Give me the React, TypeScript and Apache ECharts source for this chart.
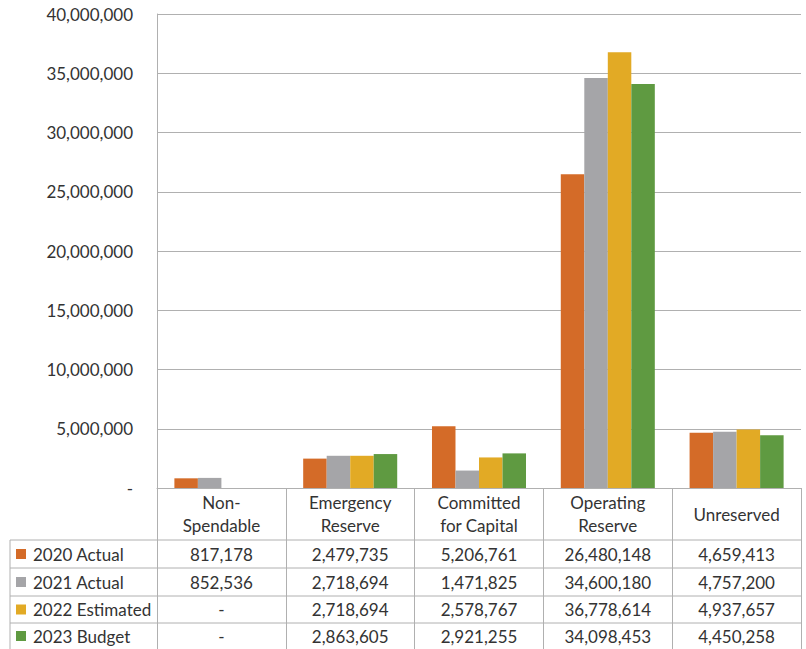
import React, { useEffect, useRef } from "react";
import * as echarts from "echarts";

const categories = ["Non-\nSpendable", "Emergency\nReserve", "Committed\nfor Capital", "Operating\nReserve", "Unreserved"];
const seriesNames = ["2020 Actual", "2021 Actual", "2022 Estimated", "2023 Budget"];
const actual2020 = [817178, 2479735, 5206761, 26480148, 4659413];
const actual2021 = [852536, 2718694, 1471825, 34600180, 4757200];
const estimated2022 = [null, 2718694, 2578767, 36778614, 4937657];
const budget2023 = [null, 2863605, 2921255, 34098453, 4450258];
const colors = ["#D46B28", "#A5A5A8", "#E2AA25", "#5F9A41"];

const FONT = "Lato";
const TEXT = "#333333";
const LINE = "#B0B0B0";
const FS = 17;

export default function App() {
  const ref = useRef<HTMLDivElement>(null);
  useEffect(() => {
    document.body.style.margin = "0";
    const chart = echarts.init(ref.current!, null, { renderer: "svg" });
    const allSeries = [actual2020, actual2021, estimated2022, budget2023];
    const gridLeft = 157;
    const gridRight = 801;
    const colW = (gridRight - gridLeft) / categories.length;
    const rowLines = [540, 568, 596, 623];
    const rowCenters = [554, 582, 609.5, 636];
    const fmt = (v: number | null) => (v == null ? "-" : v.toLocaleString("en-US"));

    const graphics: any[] = [];
    rowLines.forEach((y) => {
      graphics.push({ type: "line", shape: { x1: 10, y1: y, x2: gridRight, y2: y }, style: { stroke: LINE, lineWidth: 1 }, silent: true });
    });
    graphics.push({ type: "line", shape: { x1: 10, y1: 540, x2: 10, y2: 649 }, style: { stroke: LINE, lineWidth: 1 }, silent: true });
    seriesNames.forEach((name, r) => {
      const cy = rowCenters[r];
      graphics.push({ type: "rect", shape: { x: 16, y: cy - 5, width: 10, height: 10 }, style: { fill: colors[r] }, silent: true });
      graphics.push({ type: "text", x: 33, y: cy, style: { text: name, font: `${FS}px ${FONT}`, fill: TEXT, textAlign: "left", textVerticalAlign: "middle" }, silent: true });
      allSeries[r].forEach((v, c) => {
        graphics.push({ type: "text", x: gridLeft + colW * (c + 0.5), y: cy, style: { text: fmt(v), font: `${FS}px ${FONT}`, fill: TEXT, textAlign: "center", textVerticalAlign: "middle" }, silent: true });
      });
    });

    chart.setOption({
      animation: false,
      grid: { left: gridLeft, right: 806 - gridRight, top: 14, bottom: 161, containLabel: false },
      xAxis: {
        type: "category",
        data: categories,
        axisLine: { show: true, lineStyle: { color: LINE } },
        axisTick: { show: true, length: 161, lineStyle: { color: LINE } },
        axisLabel: { margin: 26, color: TEXT, fontFamily: FONT, fontSize: FS, lineHeight: 23, verticalAlign: "middle", align: "center", interval: 0 },
      },
      yAxis: {
        type: "value",
        min: 0,
        max: 40000000,
        interval: 5000000,
        axisLine: { show: true, lineStyle: { color: LINE } },
        axisTick: { show: false },
        splitLine: { lineStyle: { color: LINE } },
        axisLabel: { margin: 24, color: TEXT, fontFamily: FONT, fontSize: FS, formatter: (v: number) => (v === 0 ? "-" : v.toLocaleString("en-US")) },
      },
      series: allSeries.map((d, i) => ({
        name: seriesNames[i],
        type: "bar",
        data: d,
        barGap: "0%",
        barCategoryGap: "27%",
        itemStyle: { color: colors[i] },
      })),
      graphic: graphics,
    });
    return () => chart.dispose();
  }, []);
  return <div ref={ref} style={{ width: 806, height: 649 }} />;
}
